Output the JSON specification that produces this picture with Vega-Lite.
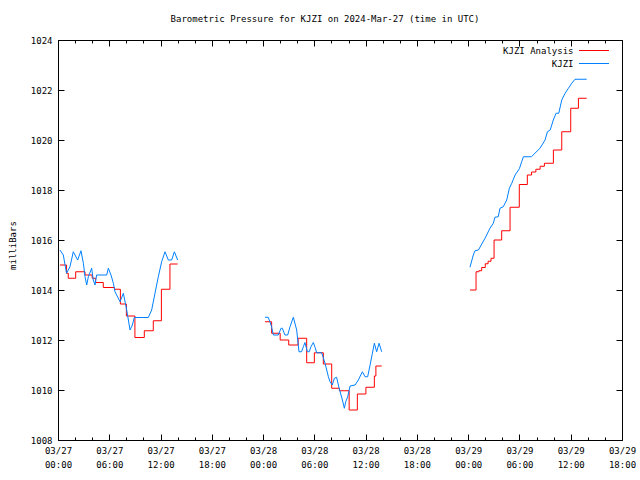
{
  "$schema": "https://vega.github.io/schema/vega-lite/v6.json",
  "width": 564,
  "height": 400,
  "autosize": {"type": "none"},
  "padding": {"left": 58, "top": 40, "right": 18, "bottom": 40},
  "background": "white",
  "config": {
    "font": "DejaVu Sans Mono",
    "view": {"stroke": "black", "strokeWidth": 1},
    "axis": {"grid": false, "domainColor": "black", "tickColor": "black", "labelColor": "black", "titleColor": "black", "labelFont": "DejaVu Sans Mono", "labelFontSize": 9, "titleFont": "DejaVu Sans Mono", "titleFontSize": 9, "titleFontWeight": "normal"}
  },
  "title": {"text": "Barometric Pressure for KJZI on 2024-Mar-27 (time in UTC)", "font": "DejaVu Sans Mono", "fontSize": 9, "fontWeight": "normal", "anchor": "middle", "dx": -15, "offset": 12, "color": "black"},
  "datasets": {
    "d": [
      {"s": "KJZI", "seg": 1, "h": 0.23, "p": 1015.6},
      {"s": "KJZI", "seg": 1, "h": 0.62, "p": 1015.4},
      {"s": "KJZI", "seg": 1, "h": 1.0, "p": 1014.67},
      {"s": "KJZI", "seg": 1, "h": 1.4, "p": 1014.93},
      {"s": "KJZI", "seg": 1, "h": 1.79, "p": 1015.53},
      {"s": "KJZI", "seg": 1, "h": 1.99, "p": 1015.4},
      {"s": "KJZI", "seg": 1, "h": 2.3, "p": 1015.2},
      {"s": "KJZI", "seg": 1, "h": 2.69, "p": 1015.57},
      {"s": "KJZI", "seg": 1, "h": 2.97, "p": 1015.07},
      {"s": "KJZI", "seg": 1, "h": 3.16, "p": 1014.53},
      {"s": "KJZI", "seg": 1, "h": 3.36, "p": 1014.2},
      {"s": "KJZI", "seg": 1, "h": 3.55, "p": 1014.53},
      {"s": "KJZI", "seg": 1, "h": 3.94, "p": 1014.87},
      {"s": "KJZI", "seg": 1, "h": 4.13, "p": 1014.4},
      {"s": "KJZI", "seg": 1, "h": 4.33, "p": 1014.2},
      {"s": "KJZI", "seg": 1, "h": 4.52, "p": 1014.6},
      {"s": "KJZI", "seg": 1, "h": 5.7, "p": 1014.6},
      {"s": "KJZI", "seg": 1, "h": 5.89, "p": 1014.87},
      {"s": "KJZI", "seg": 1, "h": 6.2, "p": 1014.6},
      {"s": "KJZI", "seg": 1, "h": 6.48, "p": 1014.27},
      {"s": "KJZI", "seg": 1, "h": 6.67, "p": 1013.93},
      {"s": "KJZI", "seg": 1, "h": 7.26, "p": 1013.53},
      {"s": "KJZI", "seg": 1, "h": 7.65, "p": 1013.87},
      {"s": "KJZI", "seg": 1, "h": 8.04, "p": 1013.2},
      {"s": "KJZI", "seg": 1, "h": 8.43, "p": 1012.4},
      {"s": "KJZI", "seg": 1, "h": 8.7, "p": 1012.6},
      {"s": "KJZI", "seg": 1, "h": 8.93, "p": 1012.9},
      {"s": "KJZI", "seg": 1, "h": 10.57, "p": 1012.9},
      {"s": "KJZI", "seg": 1, "h": 10.96, "p": 1013.2},
      {"s": "KJZI", "seg": 1, "h": 11.35, "p": 1013.87},
      {"s": "KJZI", "seg": 1, "h": 11.74, "p": 1014.53},
      {"s": "KJZI", "seg": 1, "h": 12.13, "p": 1015.13},
      {"s": "KJZI", "seg": 1, "h": 12.52, "p": 1015.53},
      {"s": "KJZI", "seg": 1, "h": 12.91, "p": 1015.2},
      {"s": "KJZI", "seg": 1, "h": 13.3, "p": 1015.2},
      {"s": "KJZI", "seg": 1, "h": 13.62, "p": 1015.53},
      {"s": "KJZI", "seg": 1, "h": 14.0, "p": 1015.2},

      {"s": "KJZI", "seg": 2, "h": 24.22, "p": 1012.91},
      {"s": "KJZI", "seg": 2, "h": 24.6, "p": 1012.91},
      {"s": "KJZI", "seg": 2, "h": 24.8, "p": 1012.73},
      {"s": "KJZI", "seg": 2, "h": 24.99, "p": 1012.53},
      {"s": "KJZI", "seg": 2, "h": 25.2, "p": 1012.2},
      {"s": "KJZI", "seg": 2, "h": 25.78, "p": 1012.2},
      {"s": "KJZI", "seg": 2, "h": 26.1, "p": 1012.47},
      {"s": "KJZI", "seg": 2, "h": 26.25, "p": 1012.47},
      {"s": "KJZI", "seg": 2, "h": 26.56, "p": 1012.2},
      {"s": "KJZI", "seg": 2, "h": 26.88, "p": 1012.2},
      {"s": "KJZI", "seg": 2, "h": 27.15, "p": 1012.53},
      {"s": "KJZI", "seg": 2, "h": 27.54, "p": 1012.91},
      {"s": "KJZI", "seg": 2, "h": 27.93, "p": 1012.4},
      {"s": "KJZI", "seg": 2, "h": 28.2, "p": 1011.53},
      {"s": "KJZI", "seg": 2, "h": 28.5, "p": 1011.53},
      {"s": "KJZI", "seg": 2, "h": 28.71, "p": 1011.73},
      {"s": "KJZI", "seg": 2, "h": 28.9, "p": 1011.9},
      {"s": "KJZI", "seg": 2, "h": 29.18, "p": 1011.53},
      {"s": "KJZI", "seg": 2, "h": 29.4, "p": 1011.53},
      {"s": "KJZI", "seg": 2, "h": 29.6, "p": 1011.73},
      {"s": "KJZI", "seg": 2, "h": 29.88, "p": 1011.9},
      {"s": "KJZI", "seg": 2, "h": 30.08, "p": 1011.71},
      {"s": "KJZI", "seg": 2, "h": 30.27, "p": 1011.49},
      {"s": "KJZI", "seg": 2, "h": 30.86, "p": 1011.49},
      {"s": "KJZI", "seg": 2, "h": 31.25, "p": 1011.07},
      {"s": "KJZI", "seg": 2, "h": 31.64, "p": 1010.53},
      {"s": "KJZI", "seg": 2, "h": 31.83, "p": 1010.33},
      {"s": "KJZI", "seg": 2, "h": 32.1, "p": 1010.2},
      {"s": "KJZI", "seg": 2, "h": 32.34, "p": 1010.47},
      {"s": "KJZI", "seg": 2, "h": 32.6, "p": 1010.51},
      {"s": "KJZI", "seg": 2, "h": 32.9, "p": 1010.07},
      {"s": "KJZI", "seg": 2, "h": 33.28, "p": 1009.6},
      {"s": "KJZI", "seg": 2, "h": 33.51, "p": 1009.27},
      {"s": "KJZI", "seg": 2, "h": 33.67, "p": 1009.53},
      {"s": "KJZI", "seg": 2, "h": 33.9, "p": 1009.73},
      {"s": "KJZI", "seg": 2, "h": 34.18, "p": 1010.16},
      {"s": "KJZI", "seg": 2, "h": 34.76, "p": 1010.2},
      {"s": "KJZI", "seg": 2, "h": 35.15, "p": 1010.4},
      {"s": "KJZI", "seg": 2, "h": 35.62, "p": 1010.73},
      {"s": "KJZI", "seg": 2, "h": 35.93, "p": 1010.53},
      {"s": "KJZI", "seg": 2, "h": 36.24, "p": 1010.53},
      {"s": "KJZI", "seg": 2, "h": 36.52, "p": 1011.0},
      {"s": "KJZI", "seg": 2, "h": 36.79, "p": 1011.47},
      {"s": "KJZI", "seg": 2, "h": 37.02, "p": 1011.87},
      {"s": "KJZI", "seg": 2, "h": 37.29, "p": 1011.53},
      {"s": "KJZI", "seg": 2, "h": 37.57, "p": 1011.87},
      {"s": "KJZI", "seg": 2, "h": 37.88, "p": 1011.53},

      {"s": "KJZI", "seg": 3, "h": 48.21, "p": 1014.91},
      {"s": "KJZI", "seg": 3, "h": 48.6, "p": 1015.4},
      {"s": "KJZI", "seg": 3, "h": 48.8, "p": 1015.57},
      {"s": "KJZI", "seg": 3, "h": 49.2, "p": 1015.6},
      {"s": "KJZI", "seg": 3, "h": 49.97, "p": 1016.07},
      {"s": "KJZI", "seg": 3, "h": 50.55, "p": 1016.47},
      {"s": "KJZI", "seg": 3, "h": 50.94, "p": 1016.67},
      {"s": "KJZI", "seg": 3, "h": 51.13, "p": 1016.91},
      {"s": "KJZI", "seg": 3, "h": 51.52, "p": 1016.93},
      {"s": "KJZI", "seg": 3, "h": 51.72, "p": 1017.27},
      {"s": "KJZI", "seg": 3, "h": 52.1, "p": 1017.33},
      {"s": "KJZI", "seg": 3, "h": 52.51, "p": 1017.6},
      {"s": "KJZI", "seg": 3, "h": 52.82, "p": 1018.07},
      {"s": "KJZI", "seg": 3, "h": 53.1, "p": 1018.27},
      {"s": "KJZI", "seg": 3, "h": 53.49, "p": 1018.6},
      {"s": "KJZI", "seg": 3, "h": 53.99, "p": 1018.85},
      {"s": "KJZI", "seg": 3, "h": 54.26, "p": 1019.13},
      {"s": "KJZI", "seg": 3, "h": 54.46, "p": 1019.33},
      {"s": "KJZI", "seg": 3, "h": 55.4, "p": 1019.33},
      {"s": "KJZI", "seg": 3, "h": 56.4, "p": 1019.67},
      {"s": "KJZI", "seg": 3, "h": 57.0, "p": 1020.0},
      {"s": "KJZI", "seg": 3, "h": 57.27, "p": 1020.33},
      {"s": "KJZI", "seg": 3, "h": 57.6, "p": 1020.4},
      {"s": "KJZI", "seg": 3, "h": 57.96, "p": 1020.8},
      {"s": "KJZI", "seg": 3, "h": 58.28, "p": 1021.07},
      {"s": "KJZI", "seg": 3, "h": 58.6, "p": 1021.07},
      {"s": "KJZI", "seg": 3, "h": 58.95, "p": 1021.6},
      {"s": "KJZI", "seg": 3, "h": 59.34, "p": 1021.87},
      {"s": "KJZI", "seg": 3, "h": 59.73, "p": 1022.07},
      {"s": "KJZI", "seg": 3, "h": 60.12, "p": 1022.27},
      {"s": "KJZI", "seg": 3, "h": 60.5, "p": 1022.43},
      {"s": "KJZI", "seg": 3, "h": 61.87, "p": 1022.43},

      {"s": "KJZI Analysis", "seg": 1, "h": 0.23, "p": 1015.0},
      {"s": "KJZI Analysis", "seg": 1, "h": 1.0, "p": 1014.67},
      {"s": "KJZI Analysis", "seg": 1, "h": 1.2, "p": 1014.47},
      {"s": "KJZI Analysis", "seg": 1, "h": 2.07, "p": 1014.73},
      {"s": "KJZI Analysis", "seg": 1, "h": 3.16, "p": 1014.6},
      {"s": "KJZI Analysis", "seg": 1, "h": 4.0, "p": 1014.47},
      {"s": "KJZI Analysis", "seg": 1, "h": 4.4, "p": 1014.3},
      {"s": "KJZI Analysis", "seg": 1, "h": 5.3, "p": 1014.1},
      {"s": "KJZI Analysis", "seg": 1, "h": 6.6, "p": 1014.03},
      {"s": "KJZI Analysis", "seg": 1, "h": 7.3, "p": 1013.44},
      {"s": "KJZI Analysis", "seg": 1, "h": 8.0, "p": 1012.96},
      {"s": "KJZI Analysis", "seg": 1, "h": 9.0, "p": 1012.1},
      {"s": "KJZI Analysis", "seg": 1, "h": 10.1, "p": 1012.37},
      {"s": "KJZI Analysis", "seg": 1, "h": 11.15, "p": 1012.77},
      {"s": "KJZI Analysis", "seg": 1, "h": 12.1, "p": 1014.03},
      {"s": "KJZI Analysis", "seg": 1, "h": 13.1, "p": 1015.04},
      {"s": "KJZI Analysis", "seg": 1, "h": 14.0, "p": 1015.04},

      {"s": "KJZI Analysis", "seg": 2, "h": 24.22, "p": 1012.73},
      {"s": "KJZI Analysis", "seg": 2, "h": 25.0, "p": 1012.27},
      {"s": "KJZI Analysis", "seg": 2, "h": 26.0, "p": 1012.0},
      {"s": "KJZI Analysis", "seg": 2, "h": 27.0, "p": 1011.8},
      {"s": "KJZI Analysis", "seg": 2, "h": 28.1, "p": 1012.07},
      {"s": "KJZI Analysis", "seg": 2, "h": 29.1, "p": 1011.09},
      {"s": "KJZI Analysis", "seg": 2, "h": 30.0, "p": 1011.49},
      {"s": "KJZI Analysis", "seg": 2, "h": 31.05, "p": 1011.04},
      {"s": "KJZI Analysis", "seg": 2, "h": 32.03, "p": 1010.07},
      {"s": "KJZI Analysis", "seg": 2, "h": 32.93, "p": 1009.97},
      {"s": "KJZI Analysis", "seg": 2, "h": 34.07, "p": 1009.2},
      {"s": "KJZI Analysis", "seg": 2, "h": 35.03, "p": 1009.84},
      {"s": "KJZI Analysis", "seg": 2, "h": 36.03, "p": 1010.11},
      {"s": "KJZI Analysis", "seg": 2, "h": 37.02, "p": 1010.56},
      {"s": "KJZI Analysis", "seg": 2, "h": 37.2, "p": 1010.96},
      {"s": "KJZI Analysis", "seg": 2, "h": 37.88, "p": 1010.96},

      {"s": "KJZI Analysis", "seg": 3, "h": 48.22, "p": 1014.0},
      {"s": "KJZI Analysis", "seg": 3, "h": 48.92, "p": 1014.73},
      {"s": "KJZI Analysis", "seg": 3, "h": 49.25, "p": 1014.77},
      {"s": "KJZI Analysis", "seg": 3, "h": 49.58, "p": 1014.9},
      {"s": "KJZI Analysis", "seg": 3, "h": 50.0, "p": 1015.05},
      {"s": "KJZI Analysis", "seg": 3, "h": 50.33, "p": 1015.15},
      {"s": "KJZI Analysis", "seg": 3, "h": 50.67, "p": 1015.27},
      {"s": "KJZI Analysis", "seg": 3, "h": 51.03, "p": 1016.0},
      {"s": "KJZI Analysis", "seg": 3, "h": 51.92, "p": 1016.37},
      {"s": "KJZI Analysis", "seg": 3, "h": 52.9, "p": 1017.31},
      {"s": "KJZI Analysis", "seg": 3, "h": 53.98, "p": 1018.22},
      {"s": "KJZI Analysis", "seg": 3, "h": 54.92, "p": 1018.6},
      {"s": "KJZI Analysis", "seg": 3, "h": 55.42, "p": 1018.72},
      {"s": "KJZI Analysis", "seg": 3, "h": 55.92, "p": 1018.83},
      {"s": "KJZI Analysis", "seg": 3, "h": 56.42, "p": 1018.95},
      {"s": "KJZI Analysis", "seg": 3, "h": 56.92, "p": 1019.07},
      {"s": "KJZI Analysis", "seg": 3, "h": 57.97, "p": 1019.6},
      {"s": "KJZI Analysis", "seg": 3, "h": 58.95, "p": 1020.33},
      {"s": "KJZI Analysis", "seg": 3, "h": 60.0, "p": 1021.27},
      {"s": "KJZI Analysis", "seg": 3, "h": 60.9, "p": 1021.67},
      {"s": "KJZI Analysis", "seg": 3, "h": 61.87, "p": 1021.67}
    ]
  },
  "data": {"name": "d"},
  "resolve": {"axis": {"x": "independent", "y": "independent"}},
  "layer": [
    {
      "transform": [{"filter": "datum.s == 'KJZI Analysis'"}],
      "mark": {"type": "line", "interpolate": "step-after", "strokeWidth": 1},
      "encoding": {
        "x": {"field": "h", "type": "quantitative",
          "scale": {"domain": [0, 66], "nice": false, "zero": false},
          "axis": {"orient": "bottom", "title": null, "values": [0, 6, 12, 18, 24, 30, 36, 42, 48, 54, 60, 66], "tickSize": -6, "labelPadding": 12, "labelFlush": false, "labelOverlap": false, "labelLineHeight": 14, "labelBaseline": "top",
            "labelExpr": "['03/' + (27 + floor(datum.value / 24)), ((datum.value % 24) < 10 ? '0' : '') + (datum.value % 24) + ':00']"}},
        "y": {"field": "p", "type": "quantitative",
          "scale": {"domain": [1008, 1024], "nice": false, "zero": false},
          "axis": {"orient": "left", "title": "milliBars", "format": "d", "values": [1008, 1010, 1012, 1014, 1016, 1018, 1020, 1022, 1024], "tickSize": -6, "labelPadding": 12, "titleX": -46, "titleY": 205, "titleAngle": -90, "titleBaseline": "middle", "titleAlign": "center"}},
        "color": {"field": "s", "type": "nominal",
          "scale": {"domain": ["KJZI Analysis", "KJZI"], "range": ["#ff0000", "#0080ff"]},
          "legend": {"orient": "none", "legendX": 530.5, "legendY": 5, "title": null, "symbolType": "M-3,0H3", "symbolSize": 100, "symbolStrokeWidth": 1, "symbolFillColor": "transparent", "labelAlign": "right", "labelOffset": -26, "labelFont": "DejaVu Sans Mono", "labelFontSize": 9, "labelColor": "black", "rowPadding": 2}},
        "detail": {"field": "seg"}
      }
    },
    {
      "transform": [{"filter": "datum.s == 'KJZI'"}],
      "mark": {"type": "line", "strokeWidth": 1},
      "encoding": {
        "x": {"field": "h", "type": "quantitative",
          "axis": {"orient": "top", "title": null, "labels": false, "values": [0, 6, 12, 18, 24, 30, 36, 42, 48, 54, 60, 66], "tickSize": -6}},
        "y": {"field": "p", "type": "quantitative",
          "axis": {"orient": "right", "title": null, "labels": false, "values": [1008, 1010, 1012, 1014, 1016, 1018, 1020, 1022, 1024], "tickSize": -6}},
        "color": {"field": "s", "type": "nominal"},
        "detail": {"field": "seg"}
      }
    },
    {
      "transform": [{"filter": "datum.s == 'KJZI'"}],
      "mark": {"type": "line", "strokeOpacity": 0},
      "encoding": {
        "x": {"field": "h", "type": "quantitative",
          "axis": {"orient": "bottom", "title": null, "labels": false, "domain": false, "values": [2, 4, 8, 10, 14, 16, 20, 22, 26, 28, 32, 34, 38, 40, 44, 46, 50, 52, 56, 58, 62, 64], "tickSize": -3}},
        "y": {"field": "p", "type": "quantitative", "axis": null},
        "detail": {"field": "seg"}
      }
    },
    {
      "transform": [{"filter": "datum.s == 'KJZI'"}],
      "mark": {"type": "line", "strokeOpacity": 0},
      "encoding": {
        "x": {"field": "h", "type": "quantitative",
          "axis": {"orient": "top", "title": null, "labels": false, "domain": false, "values": [2, 4, 8, 10, 14, 16, 20, 22, 26, 28, 32, 34, 38, 40, 44, 46, 50, 52, 56, 58, 62, 64], "tickSize": -3}},
        "y": {"field": "p", "type": "quantitative", "axis": null},
        "detail": {"field": "seg"}
      }
    }
  ]
}
